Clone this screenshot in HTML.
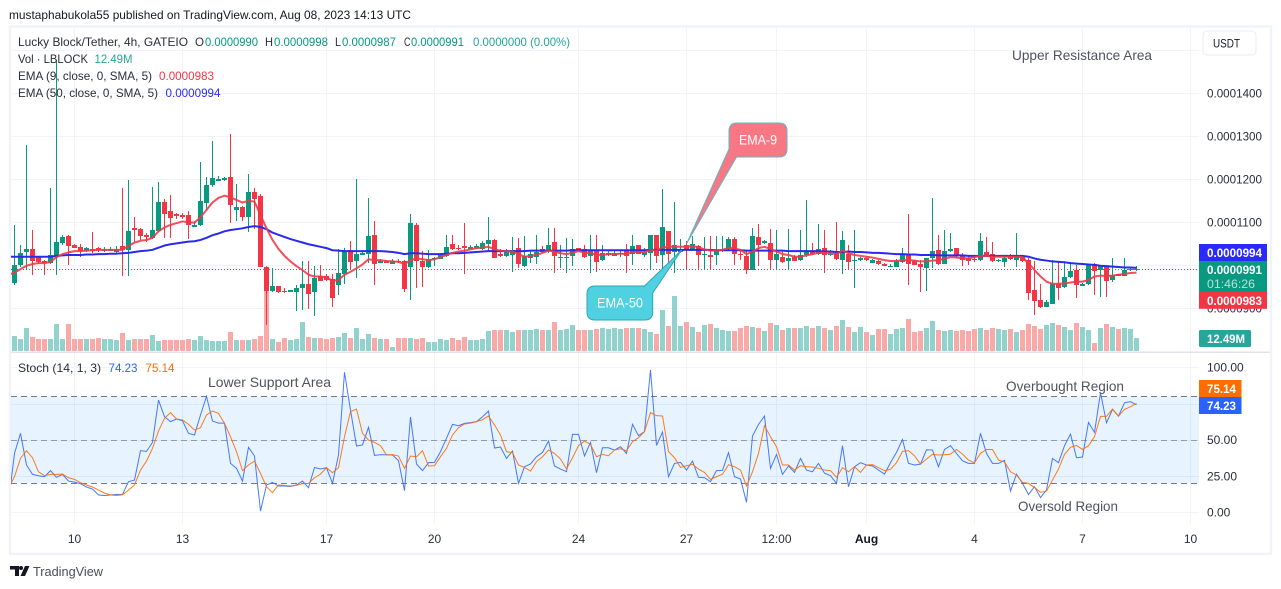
<!DOCTYPE html>
<html lang="en">
<head>
<meta charset="utf-8">
<title>Lucky Block/Tether chart</title>
<style>
html,body{margin:0;padding:0;background:#fff;width:1281px;height:589px;overflow:hidden}
svg{display:block;font-family:"Liberation Sans",sans-serif;font-size:12px}
text{white-space:pre}
</style>
</head>
<body>
<svg id="chart" xmlns="http://www.w3.org/2000/svg" width="1281" height="589" viewBox="0 0 1281 589">
<defs>
<clipPath id="priceClip"><rect x="11" y="28" width="1188" height="323"/></clipPath>
<clipPath id="stochClip"><rect x="11" y="354" width="1188" height="170"/></clipPath>
</defs>
<text x="9" y="19" fill="#131722" textLength="402" lengthAdjust="spacingAndGlyphs">mustaphabukola55 published on TradingView.com, Aug 08, 2023 14:13 UTC</text>
<rect x="10" y="26.5" width="1261" height="527.5" fill="#fff" stroke="#f0f3fa" stroke-width="2.4"/>
<g id="gridLayer"></g>
<g id="stochBandLayer" clip-path="url(#stochClip)"></g>
<g id="volumeLayer" clip-path="url(#priceClip)"></g>
<g id="candleLayer" clip-path="url(#priceClip)"></g>
<g id="emaLayer" clip-path="url(#priceClip)"></g>
<g id="stochLayer" clip-path="url(#stochClip)"></g>
<rect x="11" y="351.5" width="1259" height="1.5" fill="#e0e3eb"/>
<g id="axisLayer"></g>

<g>
<text x="18" y="46" fill="#2a2e39" textLength="170" lengthAdjust="spacingAndGlyphs">Lucky Block/Tether, 4h, GATEIO</text>
<text x="195" y="46" fill="#2a2e39" textLength="9" lengthAdjust="spacingAndGlyphs">O</text>
<text x="205" y="46" fill="#089981" textLength="53" lengthAdjust="spacingAndGlyphs">0.0000990</text>
<text x="265" y="46" fill="#2a2e39" textLength="8" lengthAdjust="spacingAndGlyphs">H</text>
<text x="274" y="46" fill="#089981" textLength="54" lengthAdjust="spacingAndGlyphs">0.0000998</text>
<text x="335" y="46" fill="#2a2e39" textLength="6" lengthAdjust="spacingAndGlyphs">L</text>
<text x="342" y="46" fill="#089981" textLength="54" lengthAdjust="spacingAndGlyphs">0.0000987</text>
<text x="404" y="46" fill="#2a2e39" textLength="6.5" lengthAdjust="spacingAndGlyphs">C</text>
<text x="411" y="46" fill="#089981" textLength="53" lengthAdjust="spacingAndGlyphs">0.0000991</text>
<text x="473" y="46" fill="#26a69a" textLength="97" lengthAdjust="spacingAndGlyphs">0.0000000 (0.00%)</text>
<text x="18" y="63" fill="#2a2e39" textLength="70" lengthAdjust="spacingAndGlyphs">Vol · LBLOCK</text>
<text x="94.5" y="63" fill="#26a69a" textLength="38" lengthAdjust="spacingAndGlyphs">12.49M</text>
<text x="18" y="80" fill="#2a2e39" textLength="134" lengthAdjust="spacingAndGlyphs">EMA (9, close, 0, SMA, 5)</text>
<text x="159" y="80" fill="#f23645" textLength="55" lengthAdjust="spacingAndGlyphs">0.0000983</text>
<text x="18" y="97" fill="#2a2e39" textLength="140" lengthAdjust="spacingAndGlyphs">EMA (50, close, 0, SMA, 5)</text>
<text x="165.5" y="97" fill="#2a2aff" textLength="55" lengthAdjust="spacingAndGlyphs">0.0000994</text>
<text x="18" y="372" fill="#2a2e39" textLength="83" lengthAdjust="spacingAndGlyphs">Stoch (14, 1, 3)</text>
<text x="108.5" y="372" fill="#2962ff" textLength="29" lengthAdjust="spacingAndGlyphs">74.23</text>
<text x="145.5" y="372" fill="#ff6d00" textLength="29" lengthAdjust="spacingAndGlyphs">75.14</text>
</g>

<g font-size="14" fill="#50535e">
<text x="1012" y="60" textLength="140" lengthAdjust="spacingAndGlyphs">Upper Resistance Area</text>
<text x="208" y="387" textLength="123" lengthAdjust="spacingAndGlyphs">Lower Support Area</text>
<text x="1006" y="391" textLength="118" lengthAdjust="spacingAndGlyphs">Overbought Region</text>
<text x="1018" y="511" textLength="100" lengthAdjust="spacingAndGlyphs">Oversold Region</text>
</g>

<g>
<path d="M737,123 H779 Q787,123 787,131 V149 Q787,157 779,157 H736.5 L686.7,243.5 L729,149 V131 Q729,123 737,123 Z" fill="#f7727f" fill-opacity="0.96" stroke="#66b3c0" stroke-width="1"/>
<text x="758" y="144.5" fill="#fff" font-size="14" text-anchor="middle" textLength="38" lengthAdjust="spacingAndGlyphs">EMA-9</text>
</g>
<g>
<path d="M595,286 H644.5 L681.7,250 L652.7,293 V312 Q652.7,320 644.7,320 H595 Q587,320 587,312 V294 Q587,286 595,286 Z" fill="#4dd0e1" fill-opacity="0.98" stroke="#2ba6b9" stroke-width="1"/>
<text x="620" y="307.5" fill="#fff" font-size="14" text-anchor="middle" textLength="46" lengthAdjust="spacingAndGlyphs">EMA-50</text>
</g>

<g>
<rect x="1203" y="31" width="53" height="24" rx="4" fill="#fff" stroke="#eceef4" stroke-width="1"/>
<text x="1213" y="47.5" fill="#131722" textLength="27" lengthAdjust="spacingAndGlyphs">USDT</text>
</g>

<g font-size="12" font-weight="bold" fill="#fff">
<rect x="1199" y="244" width="68" height="17.5" fill="#2a2aff"/>
<text x="1207" y="257" textLength="55" lengthAdjust="spacingAndGlyphs">0.0000994</text>
<rect x="1199" y="261" width="68" height="31.5" fill="#089981"/>
<text x="1207" y="274" textLength="55" lengthAdjust="spacingAndGlyphs">0.0000991</text>
<text x="1207" y="288" font-weight="normal" fill="#b5e2da" textLength="48" lengthAdjust="spacingAndGlyphs">01:46:26</text>
<rect x="1199" y="292" width="68" height="16.8" fill="#f23645"/>
<text x="1207" y="305" textLength="55" lengthAdjust="spacingAndGlyphs">0.0000983</text>
<rect x="1199" y="330" width="52" height="17" rx="1.5" fill="#26a69a"/>
<text x="1207" y="343" textLength="38" lengthAdjust="spacingAndGlyphs">12.49M</text>
<rect x="1199" y="380" width="42.5" height="17" fill="#ff6d00"/>
<text x="1207" y="393" textLength="29" lengthAdjust="spacingAndGlyphs">75.14</text>
<rect x="1199" y="397" width="42.5" height="17" fill="#2962ff"/>
<text x="1207" y="410" textLength="29" lengthAdjust="spacingAndGlyphs">74.23</text>
</g>

<g>
<polygon points="10,566 19,566 19,576 15,576 15,569.5 10,569.5" fill="#131722"/>
<circle cx="21" cy="568" r="2" fill="#131722"/>
<polygon points="25,566 29.5,566 25,576 20.5,576" fill="#131722"/>
<text x="33" y="576" font-size="13" fill="#4a4e59" textLength="70" lengthAdjust="spacingAndGlyphs">TradingView</text>
</g>
</svg>
<script>
const opens=[959,1001,1031,1038,1019,1010,1005,1019,1052,1068,
1047,1043,1033,1038,1040,1034,1034,1031,1045,1036,
1087,1084,1071,1064,1080,1147,1126,1119,1117,1117,
1089,1094,1145,1187,1197,1198,1205,1129,1136,1112,
1171,1161,996,940,952,941,939,938,947,957,
938,974,974,968,954,980,1036,1010,1024,1026,
1071,1006,1009,1003,1011,1010,996,1094,1010,996,
1014,1015,1022,1050,1040,1045,1039,1040,1038,1050,
1059,1026,1022,1024,1040,998,1017,1019,1037,1033,
1054,1019,1019,1022,1040,1038,1022,1036,1012,1024,
1022,1026,1033,1026,1047,1024,1029,1071,1024,1080,
1031,1030,1047,1036,1045,1024,1024,1024,1033,1038,
1061,1026,1022,989,1066,1052,1052,1012,1019,1010,
1019,1012,1024,1032,1026,1040,1024,1028,1012,1026,
1009,1012,1017,1006,1010,1003,998,996,1008,1024,
1010,1003,994,1017,1036,1003,1033,1040,1024,1018,
1014,1012,1031,1026,1010,1008,1022,1012,1019,1012,
943,919,903,910,957,950,973,989,953,957,
1003,989,998,966,979,975,988,990];
const highs=[1094,1047,1280,1082,1020,1012,1180,1477,1071,1071,
1050,1050,1043,1078,1043,1043,1043,1045,1180,1198,
1112,1086,1074,1182,1194,1154,1164,1121,1121,1126,
1102,1240,1205,1289,1208,1205,1305,1189,1138,1212,
1180,1166,998,994,952,947,943,954,1010,1010,
998,1001,980,980,1038,1040,1057,1201,1032,1157,
1103,1014,1012,1014,1014,1012,1119,1098,1033,1036,
1020,1026,1071,1071,1047,1098,1047,1050,1057,1112,
1061,1037,1037,1065,1064,1068,1036,1071,1045,1087,
1087,1047,1064,1061,1040,1047,1071,1071,1047,1034,
1033,1036,1050,1071,1047,1040,1071,1071,1177,1080,
1147,1061,1057,1068,1047,1066,1068,1068,1068,1066,
1066,1036,1034,1087,1096,1059,1084,1082,1036,1084,
1024,1082,1152,1051,1096,1082,1036,1101,1080,1047,
1082,1020,1020,1014,1012,1005,1002,1014,1040,1119,
1012,1012,1017,1157,1071,1082,1075,1040,1029,1022,
1022,1075,1066,1054,1015,1024,1026,1075,1024,1017,
1010,957,919,1012,1010,1008,1008,1001,958,1003,
1005,1001,1001,1017,980,1017,993,998];
const lows=[954,997,989,978,1003,978,1003,978,1047,1001,
1040,1019,1032,1029,1031,1031,1033,1029,975,975,
1055,1060,1055,1062,1078,1064,1064,1108,1107,1061,
1088,1091,1129,1182,1196,1196,1098,1104,1103,1078,
1084,996,861,939,936,936,938,894,896,898,
882,964,964,903,931,957,989,971,1023,1005,
954,1005,1005,1002,1005,938,919,947,950,994,
998,1014,1020,1036,1036,980,1037,1037,1036,1032,
1016,1020,1020,984,994,997,1005,1003,1028,1029,
982,994,982,998,1034,1018,982,984,1011,1022,
1022,1020,982,1001,1026,1020,989,1005,984,989,
982,1028,991,1033,991,991,991,1001,1032,1036,
1001,1012,980,988,998,1050,989,989,1006,989,
1009,1011,1019,1024,1025,982,1022,1013,980,989,
947,1010,1010,1005,1001,998,996,995,1006,954,
1000,938,940,994,1001,1002,1032,1016,998,1001,
1008,1010,1019,1008,1008,996,1012,996,1008,919,
885,901,902,909,919,947,970,924,952,954,
931,926,926,961,974,974,987,987];
const closes=[1001,1029,1038,1010,1008,1005,1024,1054,1066,1045,
1040,1033,1040,1033,1036,1038,1038,1038,1036,1080,
1082,1068,1066,1082,1147,1119,1110,1115,1112,1094,
1094,1150,1187,1203,1201,1202,1140,1136,1112,1171,
1154,996,940,952,938,939,943,947,957,933,
971,964,966,924,982,1033,1008,1026,1029,1068,
1003,1009,1006,1011,1007,945,1098,1010,996,1015,
1017,1024,1043,1038,1038,1040,1043,1046,1052,1059,
1017,1022,1031,1036,1003,1022,1026,1031,1032,1047,
1022,1020,1020,1038,1036,1019,1033,1008,1029,1029,
1029,1029,1022,1045,1026,1031,1071,1022,1089,1026,
1047,1038,1036,1050,1024,1026,1020,1036,1036,1061,
1026,1024,989,1068,1047,1057,1012,1026,1008,1017,
1010,1024,1031,1026,1038,1024,1026,1015,1059,1008,
1012,1017,1012,1012,1004,999,999,1010,1024,1003,
1001,996,1017,1033,1003,1033,1038,1022,1012,1010,
1012,1057,1022,1010,1012,1017,1015,1019,1010,936,
917,903,915,957,947,973,987,954,957,1003,
987,998,964,978,976,989,991,991];
const volumes=[14.4,11.7,21.6,13.5,11.7,11.7,11.7,25.2,11.7,25.2,
11.7,11.7,11.7,11.7,12.6,11.7,11.7,10.8,17.1,10.8,
11.7,11.7,11.7,15.3,9.9,10.8,10.8,10.8,10.8,11.7,
10.8,14.4,10.8,9.9,9.9,9.9,18,10.8,10.8,10.8,
11.7,14.4,76.8,11.7,9,12.6,10.8,11.7,27,13.5,
12.6,12.6,11.7,12.6,13.5,17.1,12.6,21.6,11.7,16.2,
12.6,11.7,11.7,4.5,12.6,12.6,12.6,11.7,12.6,9,
9,11.7,10.8,12.6,10.8,13.5,10.8,10.8,11.7,18.9,
19.8,19.8,19.8,18,19.8,19.8,19.8,20.7,19.8,19.8,
27,19.8,20.7,24.3,19.8,19.8,19.8,20.7,21.6,20.7,
21.6,20.7,21.6,21.6,21.6,20.7,18,16.2,37.8,23.4,
50.4,23.4,27,22.5,18,24.3,25.2,21.6,19.8,18.9,
18.9,21.6,23.4,22.5,21.6,18.9,26.1,24.3,19.8,21.6,
21.6,21.6,23.4,21.6,23.4,21.6,19.8,23.4,28.8,22.5,
18,22.5,18,15.3,20.7,20.7,16.2,20.7,21.6,29.7,
18,18.9,21.6,27.9,19.8,18.9,19.8,18.9,19.8,18.9,
20.7,21.6,19.8,21.6,20.7,19.8,20.7,18,19.8,25.2,
23.4,20.7,24.3,26.1,24.3,22.5,19.8,26.1,22.5,19.8,
8.1,21.6,25.2,22.5,20.7,21.6,20.7,12.49];
/* line series carry one extra leading reading for the bar just off the left edge */
const ema9=[978,983,991,999,1003,1005,1005,1008,1019,1026,1030,
1033,1033,1034,1035,1036,1036,1036,1036,1036,1045,
1053,1057,1059,1064,1079,1088,1094,1098,1102,1100,
1099,1112,1129,1146,1157,1162,1158,1152,1146,1150,
1148,1117,1086,1059,1038,1022,1009,998,989,978,
974,974,972,964,966,978,985,993,1002,1014,
1012,1012,1010,1009,1008,1003,1012,1016,1014,1012,
1014,1019,1024,1029,1032,1034,1037,1040,1041,1043,
1037,1034,1032,1032,1026,1020,1022,1024,1029,1034,
1032,1028,1026,1029,1033,1029,1029,1024,1024,1026,
1026,1027,1026,1031,1031,1030,1036,1034,1042,1043,
1043,1043,1043,1045,1042,1037,1034,1034,1036,1041,
1039,1036,1026,1032,1040,1043,1038,1032,1026,1024,
1020,1020,1023,1026,1029,1029,1028,1026,1034,1028,
1024,1022,1020,1018,1015,1012,1010,1010,1012,1012,
1011,1009,1009,1011,1012,1015,1019,1018,1016,1016,
1019,1022,1022,1020,1020,1020,1020,1020,1019,1005,
989,974,962,957,957,958,960,962,962,966,
974,976,975,976,978,980,982,983];
const ema50=[1020,1020,1020,1020,1020,1020,1020,1020,1022,1023,1024,
1024,1024,1025,1025,1026,1026,1027,1027,1028,1029,
1031,1033,1034,1036,1041,1046,1049,1051,1053,1055,
1056,1059,1064,1070,1074,1079,1082,1084,1086,1089,
1091,1089,1084,1076,1071,1066,1061,1057,1053,1049,
1046,1043,1040,1035,1034,1033,1033,1033,1033,1033,
1033,1033,1032,1031,1029,1026,1028,1028,1027,1026,
1026,1026,1027,1028,1028,1029,1030,1031,1032,1033,
1033,1033,1033,1033,1033,1033,1034,1034,1034,1034,
1034,1034,1034,1035,1035,1035,1035,1035,1035,1035,
1035,1035,1035,1035,1035,1035,1036,1036,1036,1036,
1036,1036,1036,1036,1036,1036,1036,1035,1035,1035,
1035,1035,1034,1034,1034,1034,1034,1034,1034,1033,
1033,1033,1033,1033,1033,1032,1032,1031,1031,1032,
1031,1031,1030,1029,1029,1028,1027,1026,1026,1025,
1025,1024,1024,1024,1023,1023,1023,1023,1023,1022,
1022,1022,1022,1022,1022,1022,1022,1022,1022,1020,
1016,1013,1011,1009,1008,1007,1005,1004,1003,1002,
1001,999,998,997,996,995,995,994];
const stochK=[6.9,40.7,54.5,32.7,26.2,25.3,24.6,28.8,24.2,26.2,21.6,
20.9,19.8,17.5,16.1,12,11.7,12,12.4,12.4,21.2,
22.3,42.6,42.1,48.3,77.5,66,62.6,64.4,63.2,54.5,
53.4,67.2,80,63,61.6,61.6,33.8,30.4,21.6,44.9,
38.9,0.9,18.9,20.7,18.2,18.2,17.9,18.9,21.6,17,
31,29.9,30.8,20,39.6,96.6,70.6,45.8,46.5,58.7,
39.3,39.8,39.8,39.6,35.7,15,65.8,33.4,28.8,34.3,
34.5,41.9,51.1,60.7,59.8,61.4,61.9,62.6,66,69.9,
44.4,45.1,37.3,42.3,20,31.5,33.4,38.4,41.4,49.2,
32,29.9,28.1,53.8,53.8,38.9,48.3,27.4,44.6,44.6,
43,45.3,40.7,60.7,52.9,55.7,98.2,46.2,55.4,24.6,
33.8,34.5,29.2,35.4,24.2,23.9,21.2,28.8,29,41.2,
24.6,23,6.9,52.7,60.7,66.4,30.4,40,26.2,32,
27.6,37.2,29.2,28,33.8,27.1,25.3,20,46,17.7,
31.5,34.3,32.7,32,29.2,26.4,34.3,41.4,50.3,33.8,
32.7,33.3,43.2,43,31.5,43.4,46,40.7,35.6,33.8,
33.8,54.5,40.7,33.8,33.8,35.9,14.7,26.4,20,12.4,
17.7,10.3,15.4,37.2,34.3,46,54,37.7,38.2,62.1,
55.2,82.5,61.8,71,66.4,75.6,76.4,74.23];
const stochD=[17,24.6,37.3,42.6,37.7,28,25.3,26.2,26.2,26.4,23.9,
22.8,20.5,18.9,17.5,15.4,13.3,12,11.7,12.2,15.4,
18.9,29.2,35.4,44.2,56.1,64.9,68.8,64.4,63.7,60.7,
56.8,58.4,67.2,69.9,68.3,61.4,52.2,41.9,28.8,32.7,
35.4,26.9,17.7,13.6,18.9,18.6,18.2,18.6,19.8,20,
23.9,26.4,30.8,27.4,30.8,52.2,69.5,71.3,54.5,49.9,
48.3,46,39.6,39.8,38.9,30.4,38.9,38.4,42.6,32,
32.2,38.4,44.2,53.4,58.4,61,61.6,62.6,63.9,66.5,
60.3,53.4,41.9,41.2,32.7,31,28.5,35,38.4,43,
40.7,36.8,29.9,37.7,46,49.2,46.9,38.4,40,39.1,
43,43.9,42.5,48.8,51.5,55.7,68.8,66.7,66.5,41.9,
37.7,31,32.2,33.1,29.9,27.6,22.8,24.6,26.4,32.9,
31.5,29.2,18.2,28,40.7,59.8,52.2,45.3,32.7,32.7,
29.2,32.2,31.5,31.3,30.4,29.2,28.8,24.2,30.8,28,
31.5,27.6,32.7,32.9,30.8,28.8,29.7,34.3,42.1,42.6,
39.1,33.3,36.8,40,39.6,39.8,40.2,43.4,40.2,36.1,
34.3,40.7,43.4,43.4,36.1,34.7,28,25.8,20.7,20,
17.2,13.8,14.7,22.3,29.9,40,44.9,46.2,43.4,46,
52.2,66.2,66.2,71.3,66.4,71,72.9,75.14];
const priceGridTicks=[1500,1400,1300,1200,1100,1000,900];
const priceTickLabels=[["0.0001400",1400],["0.0001300",1300],["0.0001200",1200],["0.0001100",1100],["0.0001000",1000],["0.0000900",900]];
const stochTicks=[100,50,25,0];
const stochTickLabels=["100.00","50.00","25.00","0.00"];
const stochGridTicks=[100,75,50,25,0];
const stochLevels=[80,50,20];
const timeLabels=["10","13","17","20","24","27","12:00","Aug","4","7","10"];
const timeBarIndexes=[10,28,52,70,94,112,127,142,160,178,196];
const lastClose=991;

const NS="http://www.w3.org/2000/svg";
const barX=i=>14.5+6*i;
const priceY=p=>265.3-(p-1000)*0.43;
const volumeTop=v=>352-v/0.9;
const stochY=v=>512.4-1.45*v;
function make(tag,attrs,parent){
  const el=document.createElementNS(NS,tag);
  for(const k in attrs){el.setAttribute(k,attrs[k]);}
  parent.appendChild(el);
  return el;
}
const gridLayer=document.getElementById("gridLayer");
const bandLayer=document.getElementById("stochBandLayer");
const volumeLayer=document.getElementById("volumeLayer");
const candleLayer=document.getElementById("candleLayer");
const emaLayer=document.getElementById("emaLayer");
const stochLayer=document.getElementById("stochLayer");
const axisLayer=document.getElementById("axisLayer");
const GRID="#f0f3fa";

timeBarIndexes.forEach((b,i)=>{
  const x=barX(b);
  const g1=make("line",{x1:x,x2:x,y1:28,y2:351,stroke:GRID},gridLayer);
  
  
  const g2=make("line",{x1:x,x2:x,y1:353,y2:524,stroke:GRID},gridLayer);
  
  
  const t=make("text",{x:x,y:543,"text-anchor":"middle",fill:timeLabels[i]==="Aug"?"#131722":"#2a2e39","font-weight":timeLabels[i]==="Aug"?"bold":"normal"},axisLayer);
  
  
  t.textContent=timeLabels[i];
});
priceGridTicks.forEach(p=>{
  const y=Math.round(priceY(p))+0.5;
  const g=make("line",{x1:11,x2:1199,y1:y,y2:y,stroke:GRID},gridLayer);
  
  
});
priceTickLabels.forEach(tick=>{
  const t=make("text",{x:1207,y:priceY(tick[1])+4.2,fill:"#2a2e39",textLength:55,lengthAdjust:"spacingAndGlyphs"},axisLayer);
  
  
  t.textContent=tick[0];
});
stochGridTicks.forEach(v=>{
  const y=Math.round(stochY(v))+0.5;
  const g=make("line",{x1:11,x2:1199,y1:y,y2:y,stroke:GRID},gridLayer);
  
  
});
stochTicks.forEach((v,i)=>{
  const t=make("text",{x:1207,y:stochY(v)+4.2,fill:"#2a2e39"},axisLayer);
  
  
  t.textContent=stochTickLabels[i];
});

const band=make("rect",{x:11,y:stochY(stochLevels[0]),width:1188,height:stochY(stochLevels[2])-stochY(stochLevels[0]),fill:"#2196f3","fill-opacity":"0.11"},bandLayer);


stochLevels.forEach(v=>{
  const y=Math.round(stochY(v))+0.5;
  const l=make("line",{x1:11,x2:1199,y1:y,y2:y,stroke:"#787b86","stroke-dasharray":"6 4","stroke-opacity":v===50?"0.7":"1"},bandLayer);
  
  
});

closes.forEach((c,i)=>{
  const o=opens[i],up=c>=o;
  const vt=Math.round(volumeTop(volumes[i]));
  const vb=make("rect",{x:barX(i)-2.5,y:vt,width:5,height:352-vt,fill:up?"#92d2cc":"#f8a9a8"},volumeLayer);
  
  
  const col=up?"#089981":"#f23645";
  const group=make("g",{fill:col},candleLayer);
  
  
  const hy=Math.round(priceY(highs[i])),ly=Math.round(priceY(lows[i]));
  const wick=make("rect",{x:barX(i)-0.5,y:hy,width:1,height:Math.max(1,ly-hy)},group);
  
  
  const ty=Math.round(priceY(Math.max(o,c))),by=Math.round(priceY(Math.min(o,c)));
  const body=make("rect",{x:barX(i)-2.5,y:ty,width:5,height:Math.max(1,by-ty)},group);
  
  
});

const lastY=Math.round(priceY(lastClose))+0.5;
const lastLine=make("line",{x1:11,x2:1199,y1:lastY,y2:lastY,stroke:"#089981","stroke-dasharray":"1 2"},emaLayer);



function seriesPath(values,yFn){
  return values.map((v,i)=>(i?"L":"M")+barX(i-1)+","+yFn(v).toFixed(2)).join(" ");
}
const ema50Line=make("path",{d:seriesPath(ema50,priceY),fill:"none",stroke:"#2a2aee","stroke-width":"2","stroke-linejoin":"round"},emaLayer);


const ema9Line=make("path",{d:seriesPath(ema9,priceY),fill:"none",stroke:"#f23645","stroke-width":"2","stroke-opacity":"0.88","stroke-linejoin":"round"},emaLayer);


const kLine=make("path",{d:seriesPath(stochK,stochY),fill:"none",stroke:"#2962ff","stroke-width":"1","stroke-opacity":"0.85"},stochLayer);


const dLine=make("path",{d:seriesPath(stochD,stochY),fill:"none",stroke:"#ff6d00","stroke-width":"1","stroke-opacity":"0.9"},stochLayer);


</script>
</body>
</html>
